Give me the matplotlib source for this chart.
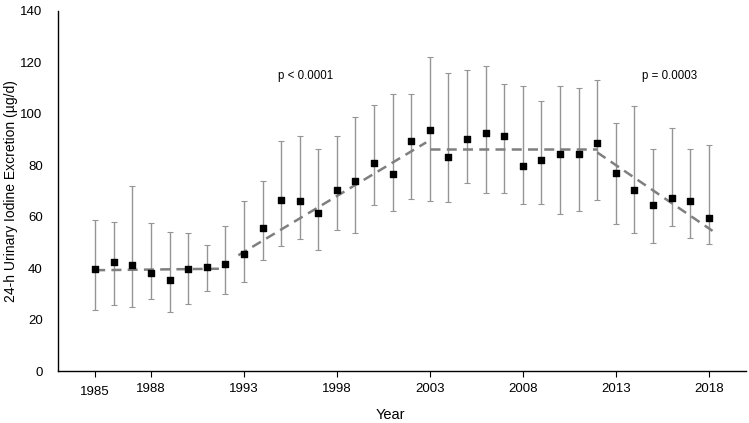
import matplotlib
matplotlib.use("Agg")
import matplotlib.pyplot as plt
import numpy as np

plt.rcParams['font.family'] = ['Liberation Sans', 'DejaVu Sans']

# data
years = list(range(1985, 2019))
mean_uie = [39.8, 42.3, 41.3, 38.1, 35.5, 39.5, 40.3, 41.7, 45.4, 55.6,
            66.6, 66.0, 61.5, 70.3, 73.8, 81.0, 76.6, 89.5, 93.9, 83.4,
            90.1, 92.7, 91.4, 79.7, 81.9, 84.3, 84.5, 88.6, 76.9, 70.3,
            64.6, 67.4, 66.0, 59.4]
upper = [58.7, 57.8, 72.1, 57.4, 53.9, 53.5, 48.9, 56.3, 66.1, 73.8,
         89.3, 91.3, 86.2, 91.5, 98.7, 103.6, 107.6, 107.9, 122.0, 115.9,
         117.0, 118.8, 111.7, 111.0, 104.9, 111.0, 110.0, 113.1, 96.3, 103.1,
         86.5, 94.6, 86.2, 87.9]
lower = [23.6, 25.5, 24.8, 27.9, 22.8, 26.2, 31.0, 29.9, 34.5, 43.2,
         48.7, 51.5, 47.1, 55.0, 53.7, 64.6, 62.1, 66.8, 66.0, 65.9,
         73.0, 69.1, 69.1, 65.1, 65.0, 61.2, 62.1, 66.5, 57.0, 53.5,
         49.7, 56.4, 51.6, 49.3]

# joinpoint trend segments (start year, end year, start value, end value)
segments = [
    (1985, 1992, 39.2, 39.8),
    (1992.7, 2002.8, 45.0, 88.9),
    (2003, 2012, 86.5, 86.5),
    (2012, 2018.2, 85.0, 54.5),
]

tick_years = [1985, 1988, 1993, 1998, 2003, 2008, 2013, 2018]

fig = plt.figure(figsize=(7.49, 4.23), dpi=100)
ax = fig.add_axes([0.0774, 0.1229, 0.9186, 0.8511])

mean = np.array(mean_uie)
yerr = [mean - np.array(lower), np.array(upper) - mean]
ax.errorbar(years, mean, yerr=yerr, fmt='none', ecolor='#959595',
            elinewidth=1.0, capsize=2.5, capthick=0.8, zorder=2)

for x0, x1, y0, y1 in segments:
    ax.plot([x0, x1], [y0, y1], linestyle=(0, (4, 2.5)), color='#7f7f7f',
            linewidth=1.8, zorder=3)

ax.scatter(years, mean, marker='s', s=22, color='black', zorder=4)

ax.text(1996.3, 114.7, 'p < 0.0001', fontsize=8.3, ha='center', va='center')
ax.text(2015.9, 114.7, 'p = 0.0003', fontsize=8.3, ha='center', va='center')

ax.set_xlim(1983, 2020)
ax.set_ylim(0, 140)
ax.set_xticks(tick_years)
ax.set_xticklabels([str(y) for y in tick_years])
ax.set_yticks(range(0, 141, 20))

ax.tick_params(axis='y', length=0, pad=11, labelsize=9.5)
ax.tick_params(axis='x', length=4, width=0.8, direction='out', pad=4.5, labelsize=9.5)
ax.xaxis.get_major_ticks()[0].set_pad(7)

for side in ['top', 'right']:
    ax.spines[side].set_visible(False)
for side in ['left', 'bottom']:
    ax.spines[side].set_linewidth(1.0)
    ax.spines[side].set_color('black')

ax.set_xlabel('Year', fontsize=10.5)
ax.xaxis.set_label_coords(0.4826, -0.103)
ax.set_ylabel('24-h Urinary Iodine Excretion (µg/d)', fontsize=10)
ax.yaxis.set_label_coords(-0.058, 0.5)

fig.savefig('out.png', dpi=100)
